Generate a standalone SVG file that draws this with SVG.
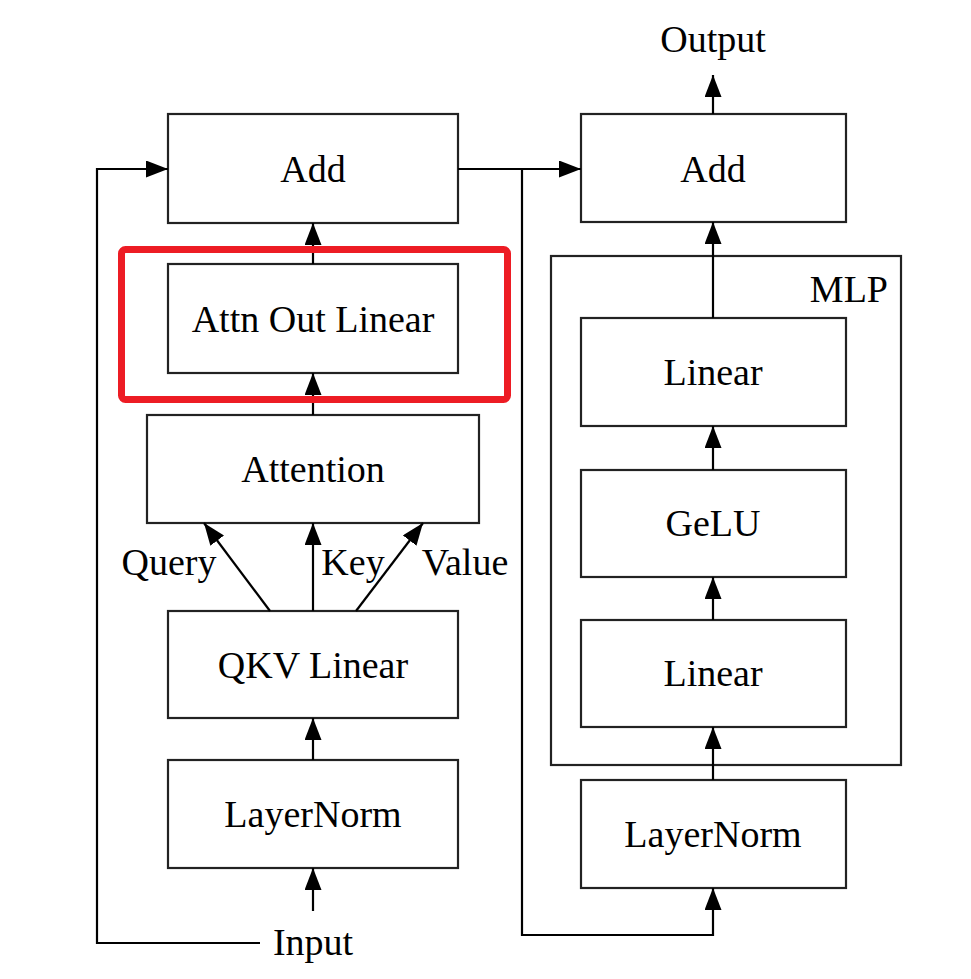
<svg xmlns="http://www.w3.org/2000/svg" width="971" height="979" viewBox="0 0 971 979">
<style>
.box{fill:#fff;stroke:#222;stroke-width:2.2}
.lbl{font-family:"Liberation Serif","Times New Roman",serif;font-size:38px;fill:#000;text-anchor:middle}
.edge{fill:none;stroke:#000;stroke-width:2.2}
</style>
<defs>
<marker id="ah" markerUnits="userSpaceOnUse" markerWidth="22" markerHeight="17" refX="22" refY="8.5" orient="auto">
<path d="M0,0 L22,8.5 L0,17 z" fill="#000"/>
</marker>
</defs>
<rect width="971" height="979" fill="#fff"/>
<g id="mlp-group">
<rect x="551" y="256" width="350" height="509" fill="none" stroke="#222" stroke-width="2.2"/>
<text x="888" y="302" class="lbl" style="text-anchor:end">MLP</text>
</g>
<g id="add1"><rect class="box" x="168" y="114" width="290" height="109"/><text class="lbl" x="313" y="182">Add</text></g>
<g id="attnout"><rect class="box" x="168" y="264" width="290" height="109"/><text class="lbl" x="313" y="332">Attn Out Linear</text></g>
<g id="attention"><rect class="box" x="147" y="415" width="332" height="108"/><text class="lbl" x="313" y="482">Attention</text></g>
<g id="qkv"><rect class="box" x="168" y="611" width="290" height="107"/><text class="lbl" x="313" y="678">QKV Linear</text></g>
<g id="ln1"><rect class="box" x="168" y="760" width="290" height="108"/><text class="lbl" x="313" y="827">LayerNorm</text></g>
<g id="input"><text class="lbl" x="313" y="955">Input</text></g>
<g id="add2"><rect class="box" x="581" y="114" width="265" height="108"/><text class="lbl" x="713" y="182">Add</text></g>
<g id="linear2"><rect class="box" x="581" y="318" width="265" height="108"/><text class="lbl" x="713" y="385">Linear</text></g>
<g id="gelu"><rect class="box" x="581" y="470" width="265" height="107"/><text class="lbl" x="713" y="536">GeLU</text></g>
<g id="linear1"><rect class="box" x="581" y="620" width="265" height="107"/><text class="lbl" x="713" y="686">Linear</text></g>
<g id="ln2"><rect class="box" x="581" y="780" width="265" height="108"/><text class="lbl" x="713" y="847">LayerNorm</text></g>
<g id="output"><text class="lbl" x="713" y="52">Output</text></g>
<g id="connectors">
<line class="edge" x1="313" y1="264" x2="313" y2="223" marker-end="url(#ah)"/>
<line class="edge" x1="313" y1="415" x2="313" y2="373" marker-end="url(#ah)"/>
<line class="edge" x1="270" y1="611" x2="204" y2="523" marker-end="url(#ah)"/>
<line class="edge" x1="313" y1="611" x2="313" y2="523" marker-end="url(#ah)"/>
<line class="edge" x1="356" y1="611" x2="423" y2="523" marker-end="url(#ah)"/>
<line class="edge" x1="313" y1="760" x2="313" y2="718" marker-end="url(#ah)"/>
<line class="edge" x1="313" y1="911" x2="313" y2="868" marker-end="url(#ah)"/>
<polyline class="edge" points="260,943 97,943 97,169 168,169" marker-end="url(#ah)"/>
<line class="edge" x1="458" y1="169" x2="581" y2="169" marker-end="url(#ah)"/>
<polyline class="edge" points="522,169 522,935 713,935 713,888" marker-end="url(#ah)"/>
<line class="edge" x1="713" y1="780" x2="713" y2="727" marker-end="url(#ah)"/>
<line class="edge" x1="713" y1="620" x2="713" y2="577" marker-end="url(#ah)"/>
<line class="edge" x1="713" y1="470" x2="713" y2="426" marker-end="url(#ah)"/>
<line class="edge" x1="713" y1="318" x2="713" y2="222" marker-end="url(#ah)"/>
<line class="edge" x1="713" y1="114" x2="713" y2="75" marker-end="url(#ah)"/>
<text class="lbl" x="169" y="575">Query</text>
<text class="lbl" x="353" y="575">Key</text>
<text class="lbl" x="465" y="575">Value</text>
</g>
<rect x="121.5" y="249.5" width="386" height="150" rx="4" fill="none" stroke="#ED1C24" stroke-width="7"/>
</svg>
